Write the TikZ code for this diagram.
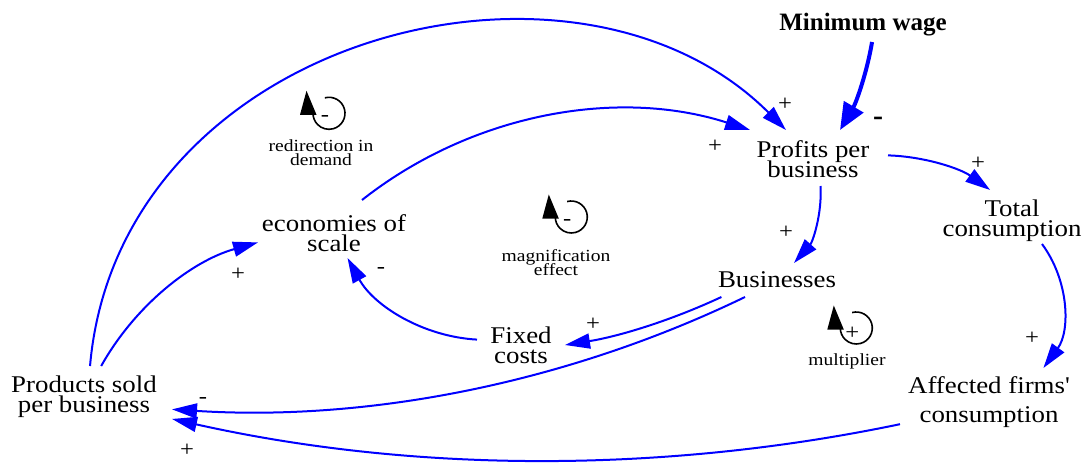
\documentclass[tikz,border=0pt]{standalone}
\usepackage{fontspec}
\setmainfont{Liberation Serif}
\newfontfamily\varfont[FakeStretch=1.12]{Liberation Serif}
\newfontfamily\loopfont[FakeStretch=1.15]{Liberation Serif}
\usetikzlibrary{arrows.meta}

\newcommand\varstyle{\varfont\fontsize{24}{20}\selectfont\lineskiplimit=-30pt\relax}
\newcommand\loopstyle{\loopfont\fontsize{17}{13.5}\selectfont\lineskiplimit=-30pt\relax}
\newcommand\signstyle{\varfont\fontsize{22}{22}\selectfont}

\tikzset{
  var/.style={rectangle, inner sep=0pt, outer sep=0pt},
  vartext/.style={inner sep=0pt, align=center, font=\varstyle},
  looplabel/.style={inner sep=0pt, align=center, font=\loopstyle},
  sign/.style={inner sep=0pt, font=\signstyle},
  link/.style={draw=blue, line width=2pt,
    -{Triangle[length=25pt,width=15pt]}},
  biglink/.style={draw=blue, line width=4pt,
    -{Triangle[length=27pt,width=22pt]}},
  loopsym/.pic={
    \draw[line width=1.6pt] (105:16) arc[start angle=105, end angle=-180, radius=16];
    \fill (-22.5,22.5) -- (-29,-1.5) -- (-12.5,-1.5) -- cycle;
    \node[sign] (-sign) at (-4,-5) {#1};
  }
}

\begin{document}
\begin{tikzpicture}[x=1pt,y=1pt]
\useasboundingbox (0,0) rectangle (1084,-463);

% stocks and auxiliaries
\node[var, minimum width=170pt, minimum height=34pt,
  label={[inner sep=0pt, font=\bfseries\fontsize{25}{25}\selectfont]center:Minimum wage}]
  (minw) at (863,-25) {};
\node[var, minimum width=150pt, minimum height=56pt,
  label={[vartext, yshift=-1.5pt]center:{Profits per\\business}}] (prof) at (813,-158) {};
\node[var, minimum width=150pt, minimum height=54pt,
  label={[vartext, yshift=-3.5pt]center:{Total\\consumption}}] (total) at (1012,-217) {};
\node[var, minimum width=120pt, minimum height=34pt,
  label={[vartext]center:{Businesses}}] (bus) at (777,-280) {};
\node[var, minimum width=152pt, minimum height=58pt,
  label={[vartext, yshift=-4.3pt]center:{economies of\\scale}}] (eco) at (334,-229) {};
\node[var, minimum width=88pt, minimum height=44pt,
  label={[vartext]center:{Fixed\\costs}}] (fixed) at (521,-345) {};
\node[var, minimum width=176pt, minimum height=62pt,
  label={[vartext]center:{Products sold\\per business}}] (prod) at (84,-397) {};
\node[var, minimum width=178pt, minimum height=68pt,
  label={[vartext]center:{Affected firms'\\[9pt]consumption}}] (aff) at (989,-402) {};

% causal links
\draw[biglink] (minw.-62) to[bend left=10.5, looseness=0.86] (prof.46);
\draw[link] (prod.79) .. controls (118.7,-36.3) and (574.9,81.1) .. (prof.134);
\draw[link] (eco.46) .. controls (471.7,-113.6) and (617,-87.4) .. (prof.156);
\draw[link] (prof.-75.5) to[bend left=22.5, looseness=0.885] (bus.45);
\draw[link] (prof.2.3) to[bend left=17, looseness=0.87] (total.129.2);
\draw[link] (total.-42) .. controls (1069.3,-280.9) and (1070.3,-331.1) .. (aff.32.2);
\draw[link] (aff.194.5) to[bend left=12.2, looseness=0.86] (prod.-14.6);
\draw[link] (bus.208) to[bend left=14.7, looseness=0.866] (prod.-8.4);
\draw[link] (bus.197.7) to[bend left=8, looseness=0.86] (fixed.0);
\draw[link] (fixed.173.4) to[bend left=29, looseness=0.91] (eco.-65.9);
\draw[link] (prod.61.3) to[bend left=22.5, looseness=0.885] (eco.190.4);

% link polarities
\node[sign] (p1) at (785,-104) {+};
\node[inner sep=0pt, font=\bfseries\fontsize{30}{30}\selectfont] (p2) at (878,-121) {-};
\node[sign] (p3) at (715,-146) {+};
\node[sign] (p4) at (978,-163) {+};
\node[sign] (p5) at (786,-232) {+};
\node[sign] (p6) at (238,-274) {+};
\node[sign] (p7) at (381,-270) {-};
\node[sign] (p8) at (593,-324) {+};
\node[sign] (p9) at (1032,-338) {+};
\node[sign] (p10) at (203,-400) {-};
\node[sign] (p11) at (187,-450) {+};

% feedback loops
\pic (rd) at (329,-113.3) {loopsym=-};
\node[looplabel] (rdlabel) at (321,-152.5) {redirection in\\demand};
\pic (mg) at (571.3,-217) {loopsym=-};
\node[looplabel] (mglabel) at (556,-262.5) {magnification\\effect};
\pic (ml) at (856.3,-328) {loopsym=+};
\node[looplabel] (mllabel) at (847,-361) {multiplier};
\end{tikzpicture}
\end{document}
